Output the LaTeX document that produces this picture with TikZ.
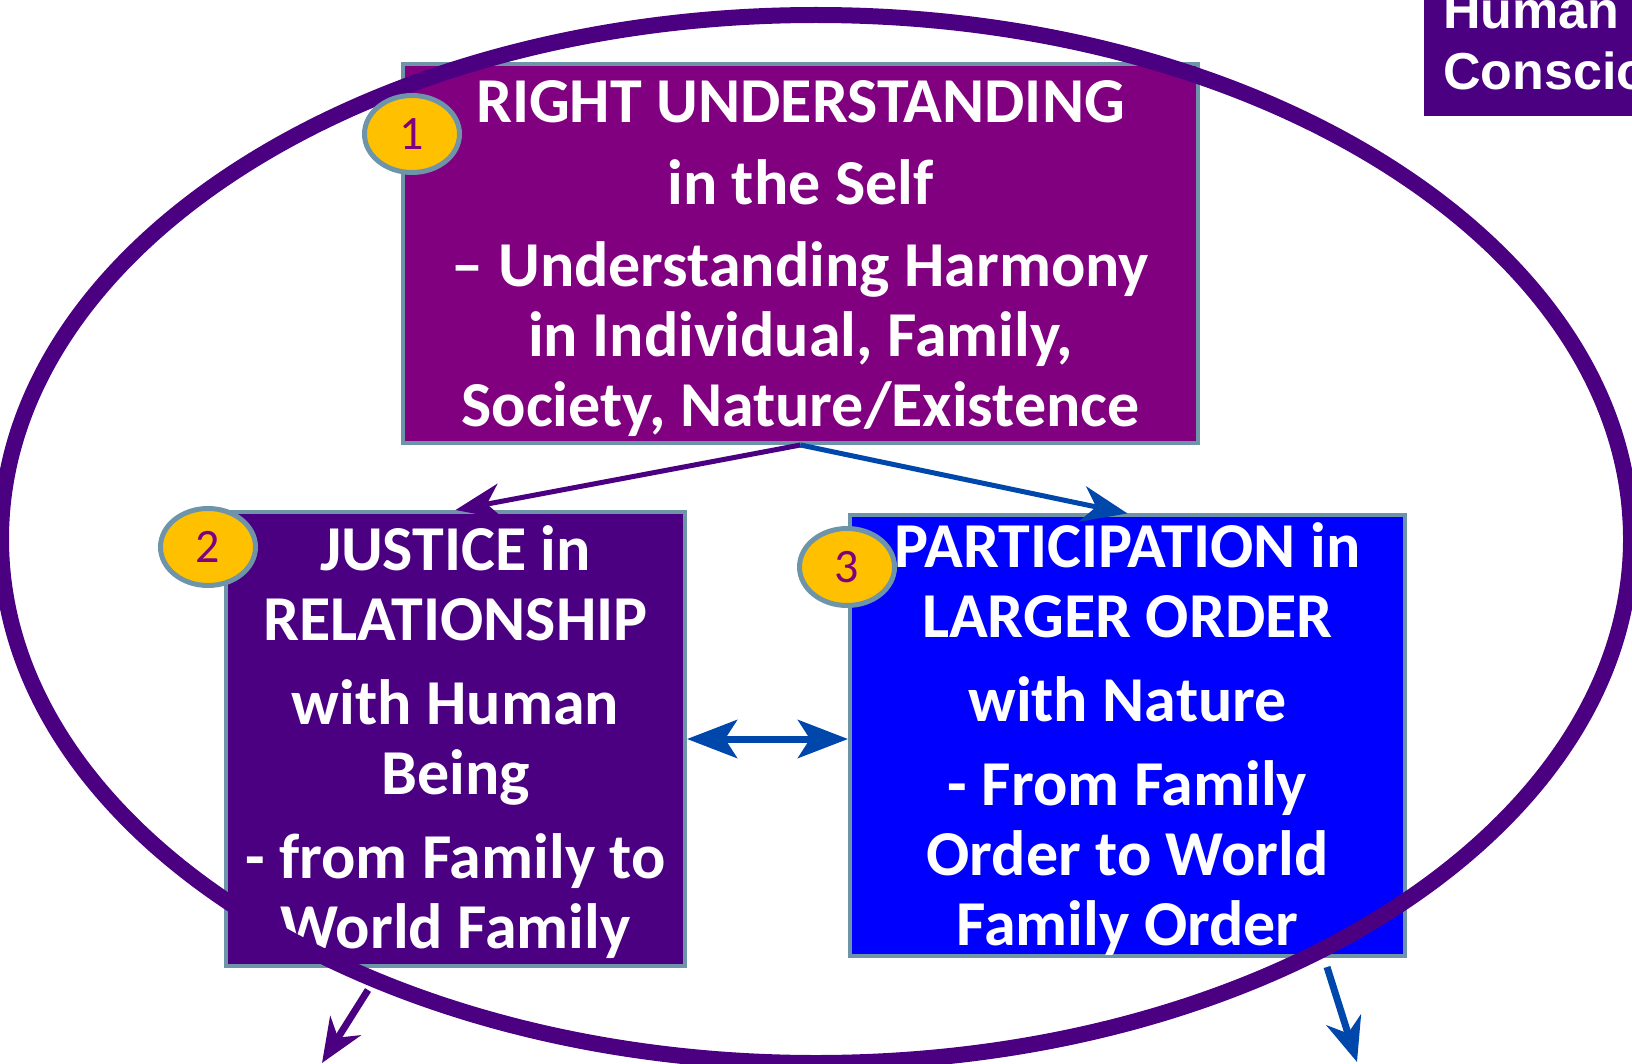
\documentclass[tikz,border=0pt]{standalone}
\usepackage{fontspec}
\setmainfont{Carlito}
\newfontfamily\arialfont{Liberation Sans}
\usetikzlibrary{shapes.geometric}
\usetikzlibrary{arrows.meta}
\definecolor{rupurple}{RGB}{128,0,128}
\definecolor{indigo}{RGB}{75,0,130}
\definecolor{pureblue}{RGB}{0,0,255}
\definecolor{edgeblue}{RGB}{110,148,170}
\definecolor{arrowblue}{RGB}{0,71,171}
\definecolor{badgegold}{RGB}{255,192,0}
\newcommand{\firstline}{\rule{0pt}{26pt}}
\tikzstyle{panel}=[draw=edgeblue, line width=2pt, text=white, align=center, inner sep=0pt, font=\bfseries\fontsize{32}{35}\selectfont]
\tikzstyle{rupanel}=[panel, fill=rupurple, minimum width=397.5pt, minimum height=189.5pt]
\tikzstyle{jrpanel}=[panel, fill=indigo, minimum width=229.5pt, minimum height=227pt]
\tikzstyle{popanel}=[panel, fill=pureblue, minimum width=277.5pt, minimum height=217.5pt]
\tikzstyle{badge}=[ellipse, draw=edgeblue, line width=2.5pt, fill=badgegold, text=rupurple, inner sep=0pt, minimum width=47.5pt, minimum height=38.5pt, font=\fontsize{24}{24}\selectfont]
\tikzstyle{ring}=[draw=indigo, line width=8pt]
\tikzstyle{link}=[line width=2.5pt, -{Stealth[length=23pt, width=18pt, inset=7pt]}]
\tikzstyle{outlink}=[line width=3.5pt, -{Stealth[length=22pt, width=18pt, inset=7pt]}]
\tikzstyle{hcbox}=[fill=indigo, inner sep=0pt, minimum width=150pt, minimum height=73pt]
\tikzstyle{hctext}=[text=white, align=left, inner sep=0pt, font=\arialfont\bfseries\fontsize{26}{30.5}\selectfont]

\begin{document}
\begin{tikzpicture}[x=0.5pt, y=-0.5pt]
        \useasboundingbox (0, 0) rectangle (1632, 1064);
        \begin{scope}
        \clip (0, 0) rectangle (1632, 1064);
        \node[rupanel] (RU) at (800.5, 253.5) {\firstline RIGHT UNDERSTANDING\\[6pt] in the Self\\[6pt] – Understanding Harmony\\ in Individual, Family,\\ Society, Nature/Existence};
        \node[jrpanel] (JR) at (455.5, 739) {\firstline JUSTICE in\\ RELATIONSHIP\\[7pt] with Human\\ Being\\[7pt] - from Family to\\ World Family};
        \node[popanel] (PO) at (1127.5, 735.5) {\firstline PARTICIPATION in\\ LARGER ORDER\\[7pt] with Nature\\[7pt] - From Family\\ Order to World\\ Family Order};
        \draw[link, draw=indigo, fill=indigo] (RU.south) -- (JR.north);
        \draw[link, draw=arrowblue, fill=arrowblue] (RU.south) -- (PO.north);
        \draw[line width=3.5pt, draw=arrowblue, {Stealth[length=25pt, width=19pt, inset=6pt]}-{Stealth[length=25pt, width=19pt, inset=6pt]}] (JR.east) -- (JR.east -| PO.west);
        \draw[ring] (816, 539) ellipse [x radius=815, y radius=524];
        \coordinate (L0) at (368, 990);
        \coordinate (L1) at (322, 1063);
        \coordinate (R0) at (1327, 967);
        \coordinate (R1) at (1357, 1062);
        \draw[outlink, draw=indigo, fill=indigo] (L0) -- (L1);
        \draw[outlink, draw=arrowblue, fill=arrowblue] (R0) -- (R1);
        \node[badge] (B1) at (412, 134) {1};
        \node[badge] (B2) at (208, 547) {2};
        \node[badge] (B3) at (847, 567) {3};
        \node[hcbox, anchor=north west] (HC) at (1424, -30) {};
        \node[hctext, anchor=north west] (HCtext) at (1443, -8) {Human\\ Consciousness};
        \end{scope}
    \end{tikzpicture}
\end{document}
